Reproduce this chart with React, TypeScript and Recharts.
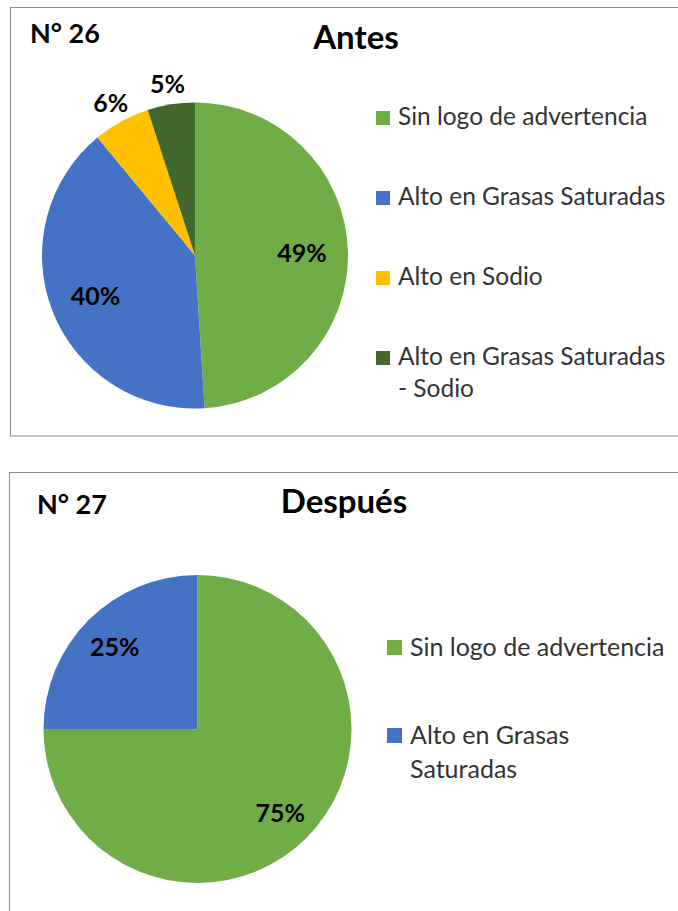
import React from "react";
import { PieChart, Pie, Cell, Legend } from "recharts";

const antesCategories = [
  "Sin logo de advertencia",
  "Alto en Grasas Saturadas",
  "Alto en Sodio",
  "Alto en Grasas Saturadas - Sodio",
];
const antesValues = [49, 40, 6, 5];
const antesColors = ["#70AD47", "#4472C4", "#FFC000", "#43682B"];

const despuesCategories = ["Sin logo de advertencia", "Alto en Grasas Saturadas"];
const despuesValues = [75, 25];
const despuesColors = ["#70AD47", "#4472C4"];

const FONT = "Lato, 'Open Sans', sans-serif";
const RAD = Math.PI / 180;

const antesData = antesCategories.map((name, i) => ({ name, value: antesValues[i] }));
const despuesData = despuesCategories.map((name, i) => ({ name, value: despuesValues[i] }));

const makeLabel = (insideFrac: number) => (props: any) => {
  const { cx, cy, midAngle, outerRadius, value } = props;
  const r = value < 10 ? outerRadius + 22 : outerRadius * insideFrac;
  const x = cx + r * Math.cos(-midAngle * RAD);
  const y = cy + r * Math.sin(-midAngle * RAD);
  return (
    <text
      x={x}
      y={y}
      textAnchor="middle"
      dominantBaseline="central"
      fill="#000"
      style={{ fontFamily: FONT, fontWeight: 700, fontSize: 25 }}
    >
      {`${value}%`}
    </text>
  );
};

const makeLegend = (
  names: string[],
  colors: string[],
  opts: { textWidth: number; lineHeight: number; gap: number; sq: number; sqTop: number; fontSize: number }
) => () => (
  <div style={{ fontFamily: FONT, fontSize: opts.fontSize, color: "#333", lineHeight: `${opts.lineHeight}px` }}>
    {names.map((name, i) => (
      <div
        key={name}
        style={{ position: "relative", paddingLeft: opts.sq + 8, width: opts.textWidth, marginBottom: opts.gap }}
      >
        <span
          style={{
            position: "absolute",
            left: 0,
            top: opts.sqTop,
            width: opts.sq,
            height: opts.sq,
            background: colors[i],
          }}
        />
        {name}
      </div>
    ))}
  </div>
);

export default function App() {
  return (
    <div style={{ position: "absolute", left: 0, top: 0, width: 678, height: 911, background: "#fff", overflow: "hidden" }}>
      <div style={{ position: "absolute", left: 0, top: 0 }}>
        <PieChart width={678} height={440} margin={{ top: 0, right: 0, bottom: 0, left: 0 }}>
          <Pie
            data={antesData}
            dataKey="value"
            nameKey="name"
            cx={195}
            cy={255.5}
            outerRadius={153}
            startAngle={90}
            endAngle={-270}
            stroke="none"
            isAnimationActive={false}
            labelLine={false}
            label={makeLabel(0.7)}
          >
            {antesData.map((d, i) => (
              <Cell key={d.name} fill={antesColors[i]} />
            ))}
          </Pie>
          <Legend
            layout="vertical"
            align="right"
            verticalAlign="top"
            wrapperStyle={{ left: 376, top: 99.5, width: 300 }}
            content={makeLegend(antesCategories, antesColors, {
              textWidth: 275,
              lineHeight: 32,
              gap: 48,
              sq: 14,
              sqTop: 11.5,
              fontSize: 24.5,
            })}
          />
        </PieChart>
      </div>
      <div style={{ position: "absolute", left: 0, top: 440 }}>
        <PieChart width={678} height={471} margin={{ top: 0, right: 0, bottom: 0, left: 0 }}>
          <Pie
            data={despuesData}
            dataKey="value"
            nameKey="name"
            cx={197.5}
            cy={289}
            outerRadius={154}
            startAngle={90}
            endAngle={-270}
            stroke="none"
            isAnimationActive={false}
            labelLine={false}
            label={makeLabel(0.76)}
          >
            {despuesData.map((d, i) => (
              <Cell key={d.name} fill={despuesColors[i]} />
            ))}
          </Pie>
          <Legend
            layout="vertical"
            align="right"
            verticalAlign="top"
            wrapperStyle={{ left: 387, top: 188.5, width: 290 }}
            content={makeLegend(despuesCategories, despuesColors, {
              textWidth: 266,
              lineHeight: 34,
              gap: 54,
              sq: 15,
              sqTop: 11.5,
              fontSize: 25,
            })}
          />
        </PieChart>
      </div>
      <svg
        width={678}
        height={911}
        style={{ position: "absolute", left: 0, top: 0, pointerEvents: "none" }}
      >
        <rect x={10.5} y={7.5} width={720} height={428.5} fill="none" stroke="#8C8C8C" strokeWidth={1} />
        <rect x={9.5} y={472.5} width={720} height={500} fill="none" stroke="#8C8C8C" strokeWidth={1} />
        <text x={30} y={43} fill="#000" style={{ fontFamily: FONT, fontWeight: 700, fontSize: 27 }}>N° 26</text>
        <text x={356} y={49} textAnchor="middle" fill="#000" style={{ fontFamily: FONT, fontWeight: 700, fontSize: 33 }}>Antes</text>
        <text x={37} y={514} fill="#000" style={{ fontFamily: FONT, fontWeight: 700, fontSize: 27 }}>N° 27</text>
        <text x={344} y={513} textAnchor="middle" fill="#000" style={{ fontFamily: FONT, fontWeight: 700, fontSize: 33 }}>Después</text>
      </svg>
    </div>
  );
}
